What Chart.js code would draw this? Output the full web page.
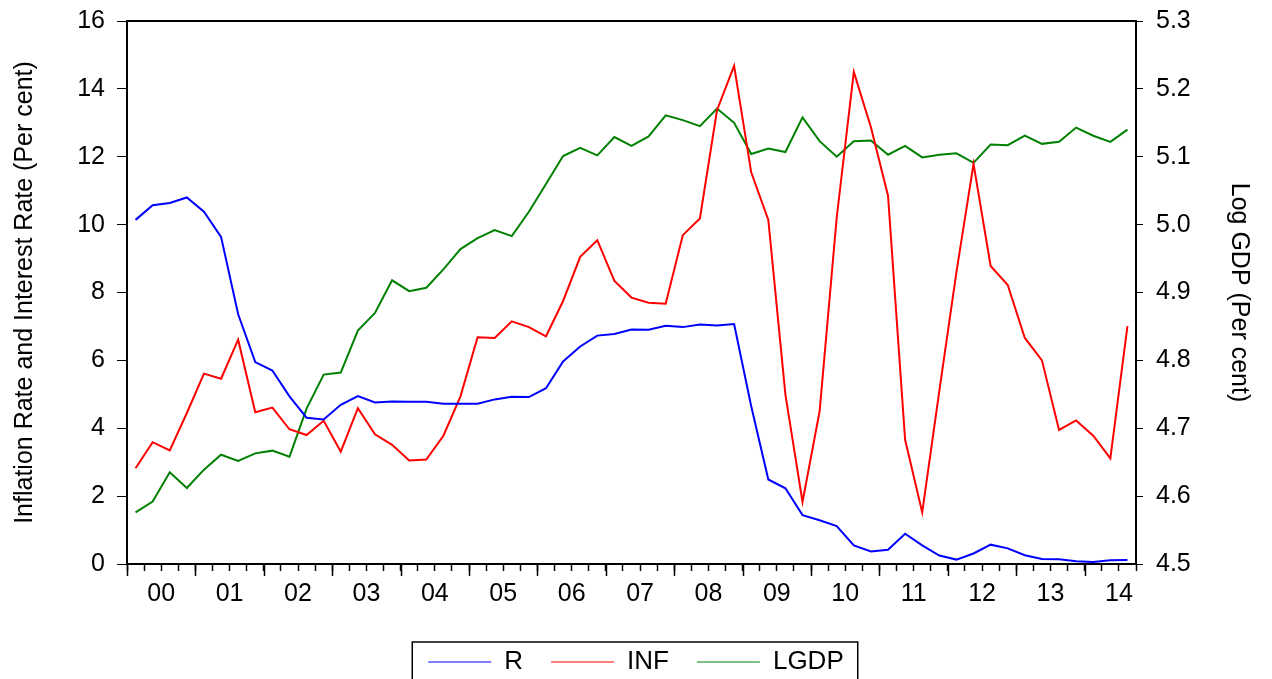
<!DOCTYPE html>
<html>
<head>
<meta charset="utf-8">
<script src="https://cdn.jsdelivr.net/npm/chart.js@4/dist/chart.umd.min.js"></script>
<style>
  html, body { margin: 0; padding: 0; overflow: hidden; background: #fff; }
  #wrap { width: 1272px; height: 685px; }
</style>
</head>
<body>
<div id="wrap"><canvas id="myChart" width="1272" height="685"></canvas></div>
<script>
// quarterly data, 2000Q1 - 2014Q3
const years = ['00', '01', '02', '03', '04', '05', '06', '07', '08', '09', '10', '11', '12', '13', '14'];

const R = [
    10.14, 10.57, 10.64, 10.80, 10.38, 9.64, 7.36, 5.95, 5.70, 4.94,
    4.31, 4.26, 4.69, 4.95, 4.76, 4.79, 4.78, 4.78, 4.72, 4.72,
    4.72, 4.85, 4.93, 4.92, 5.18, 5.97, 6.41, 6.73, 6.78, 6.91,
    6.90, 7.02, 6.98, 7.06, 7.03, 7.07, 4.65, 2.49, 2.23, 1.44,
    1.29, 1.12, 0.55, 0.37, 0.42, 0.89, 0.55, 0.25, 0.13, 0.31,
    0.57, 0.46, 0.26, 0.15, 0.14, 0.08, 0.06, 0.11, 0.12
];

const INF = [
    2.82, 3.59, 3.35, 4.45, 5.61, 5.46, 6.61, 4.47, 4.61, 3.97,
    3.80, 4.22, 3.31, 4.59, 3.82, 3.51, 3.05, 3.08, 3.78, 4.94,
    6.68, 6.66, 7.15, 6.98, 6.71, 7.75, 9.05, 9.54, 8.34, 7.85,
    7.70, 7.67, 9.69, 10.18, 13.37, 14.68, 11.54, 10.14, 4.99, 1.83,
    4.50, 10.21, 14.50, 12.87, 10.85, 3.66, 1.52, 5.10, 8.60, 11.79,
    8.78, 8.22, 6.66, 6.00, 3.95, 4.23, 3.78, 3.11, 7.01
];

const LGDP = [
    4.576, 4.592, 4.635, 4.612, 4.639, 4.661, 4.652, 4.663, 4.667, 4.658,
    4.729, 4.779, 4.782, 4.844, 4.870, 4.918, 4.902, 4.907, 4.934, 4.964,
    4.980, 4.992, 4.983, 5.019, 5.060, 5.101, 5.113, 5.102, 5.129, 5.116,
    5.130, 5.161, 5.154, 5.145, 5.171, 5.150, 5.104, 5.112, 5.107, 5.158,
    5.123, 5.100, 5.123, 5.124, 5.103, 5.116, 5.099, 5.103, 5.105, 5.091,
    5.118, 5.117, 5.131, 5.119, 5.122, 5.143, 5.131, 5.122, 5.140
];

const FONT = "'Liberation Sans', Arial, sans-serif";

// each quarter sits in the middle of its slot on a 0..59 axis
const toPoints = arr => arr.map((v, i) => ({x: i + 0.5, y: v}));

const frame = {
    id: 'frame',
    afterDraw(chart) {
        const ctx = chart.ctx;
        const a = chart.chartArea;
        const xs = chart.scales.x;
        ctx.save();
        ctx.strokeStyle = '#000';
        // top border
        ctx.lineWidth = 2;
        ctx.beginPath();
        ctx.moveTo(a.left, a.top);
        ctx.lineTo(a.right, a.top);
        ctx.stroke();
        // longer ticks at year boundaries
        ctx.lineWidth = 1.5;
        for (let v = 0; v <= xs.max; v += 4) {
            const px = Math.round(xs.getPixelForValue(v)) + 0.5;
            ctx.beginPath();
            ctx.moveTo(px, a.bottom);
            ctx.lineTo(px, a.bottom + 12);
            ctx.stroke();
        }
        // legend box
        const hb = chart.legend.legendHitBoxes;
        if (hb && hb.length) {
            const first = hb[0], last = hb[hb.length - 1];
            const l = first.left - 16;
            const r = last.left + last.width + 14;
            const t = first.top - 7;
            const b = first.top + 33;
            ctx.lineWidth = 1.5;
            ctx.strokeRect(l, t, r - l, b - t);
        }
        ctx.restore();
    }
};

const fitY = w => s => {
    s.width = w;
    s.paddingTop = 0;
    s.paddingBottom = 0;
};

const config = {
    type: 'line',
    data: {
        datasets: [
            {label: 'R', data: toPoints(R), borderColor: '#0000ff', backgroundColor: '#0000ff', yAxisID: 'y'},
            {label: 'INF', data: toPoints(INF), borderColor: '#ff0000', backgroundColor: '#ff0000', yAxisID: 'y'},
            {label: 'LGDP', data: toPoints(LGDP), borderColor: '#008000', backgroundColor: '#008000', yAxisID: 'y1'}
        ]
    },
    options: {
        responsive: false,
        animation: false,
        events: [],
        layout: {padding: {top: 21, left: 0, right: 0, bottom: 0}},
        elements: {
            line: {borderWidth: 2, tension: 0},
            point: {radius: 0}
        },
        plugins: {
            tooltip: {enabled: false},
            legend: {
                position: 'bottom',
                labels: {
                    usePointStyle: true,
                    pointStyle: 'line',
                    pointStyleWidth: 63,
                    padding: 28,
                    color: '#000',
                    font: {family: FONT, size: 26}
                }
            }
        },
        scales: {
            x: {
                type: 'linear',
                min: 0,
                max: 59,
                afterFit: s => { s.height = 57; s.paddingLeft = 0; s.paddingRight = 0; },
                border: {color: '#000', width: 2},
                grid: {drawOnChartArea: false, tickLength: 7, color: '#000', tickWidth: 1.5},
                ticks: {
                    stepSize: 1,
                    autoSkip: false,
                    maxRotation: 0,
                    padding: 8,
                    color: '#000',
                    font: {family: FONT, size: 25},
                    callback: v => (v % 4 === 2 ? years[(v - 2) / 4] : '')
                }
            },
            y: {
                position: 'left',
                min: 0,
                max: 16,
                afterFit: fitY(127),
                border: {color: '#000', width: 2},
                grid: {drawOnChartArea: false, tickLength: 10, color: '#000'},
                ticks: {stepSize: 2, padding: 12, color: '#000', font: {family: FONT, size: 25}},
                title: {
                    display: true,
                    text: 'Inflation Rate and Interest Rate (Per cent)',
                    color: '#000',
                    font: {family: FONT, size: 25},
                    padding: {top: 10, bottom: 0}
                }
            },
            y1: {
                position: 'right',
                min: 4.5,
                max: 5.3,
                afterFit: fitY(136),
                border: {color: '#000', width: 2},
                grid: {drawOnChartArea: false, tickLength: 7, color: '#000'},
                ticks: {
                    stepSize: 0.1,
                    padding: 13,
                    color: '#000',
                    font: {family: FONT, size: 25},
                    callback: v => v.toFixed(1)
                },
                title: {
                    display: true,
                    text: 'Log GDP (Per cent)',
                    color: '#000',
                    font: {family: FONT, size: 25},
                    padding: {top: 18, bottom: 0}
                }
            }
        }
    },
    plugins: [frame]
};

const myChart = new Chart(document.getElementById('myChart'), config);
</script>
</body>
</html>
